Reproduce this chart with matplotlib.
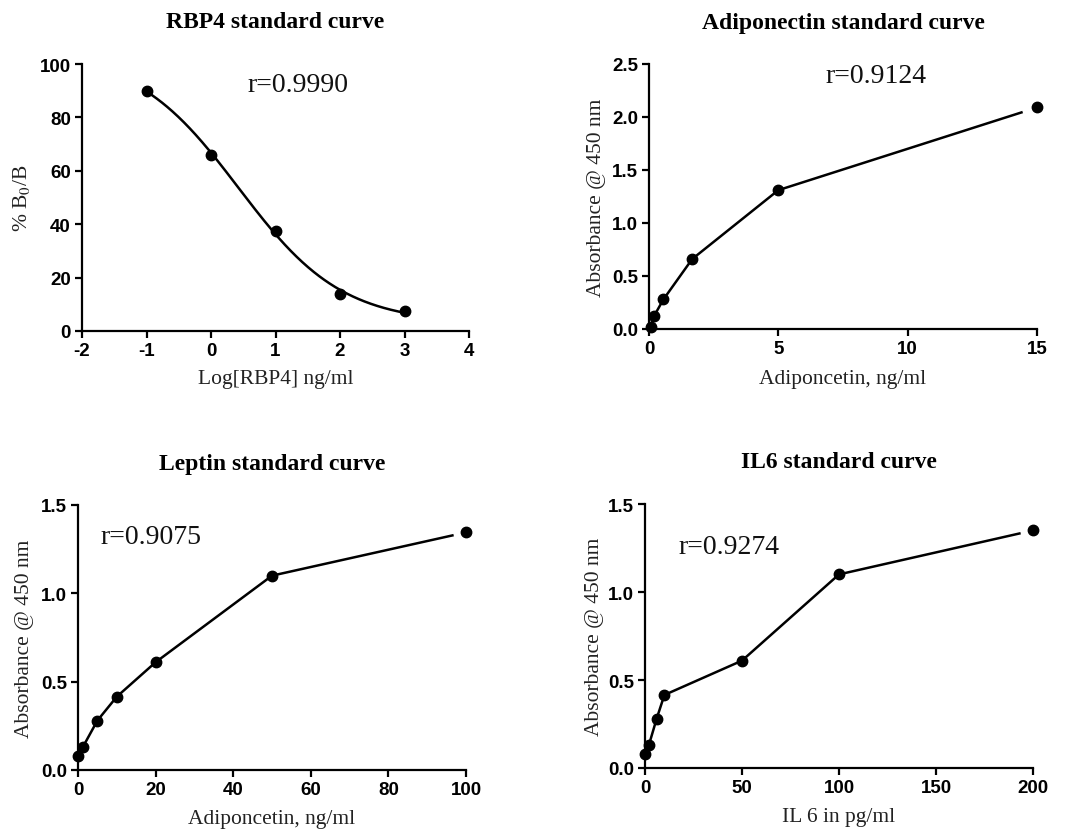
import numpy as np
import matplotlib
matplotlib.use("Agg")
import matplotlib.pyplot as plt

plt.rcParams['mathtext.fontset'] = 'stix'
plt.rcParams['axes.unicode_minus'] = False

# ---------------- data ----------------
rbp4_x = [-1, 0, 1, 2, 3]
rbp4_y = [90.0, 66.0, 37.5, 14.0, 7.5]

adipo_x = [0.06, 0.19, 0.56, 1.67, 5, 15]
adipo_y = [0.02, 0.12, 0.28, 0.66, 1.31, 2.09]

leptin_x = [0, 1.25, 5, 10, 20, 50, 100]
leptin_y = [0.08, 0.13, 0.28, 0.415, 0.61, 1.10, 1.345]

il6_x = [0, 2, 6, 10, 50, 100, 200]
il6_y = [0.08, 0.13, 0.28, 0.415, 0.61, 1.10, 1.35]

titles = ["RBP4 standard curve", "Adiponectin standard curve",
          "Leptin standard curve", "IL6 standard curve"]
r_texts = ["r=0.9990", "r=0.9124", "r=0.9075", "r=0.9274"]
xlabels = ["Log[RBP4] ng/ml", "Adiponcetin, ng/ml", "Adiponcetin, ng/ml", "IL 6 in pg/ml"]
ylabels = ["% B$_0$/B", "Absorbance @ 450 nm", "Absorbance @ 450 nm", "Absorbance @ 450 nm"]

W, H = 1068, 837


def fit_4pl(x, y):
    """Fit y = bottom + (top-bottom)/(1+10^((x-c)*h)) by grid search."""
    x = np.asarray(x, float); y = np.asarray(y, float)
    best = None
    for c in np.linspace(-1, 2.5, 141):
        for h in np.linspace(0.2, 2.5, 116):
            s = 1.0 / (1.0 + 10 ** ((x - c) * h))
            A = np.column_stack([1 - s, s])
            coef, *_ = np.linalg.lstsq(A, y, rcond=None)
            err = np.sum((A @ coef - y) ** 2)
            if best is None or err < best[0]:
                best = (err, c, h, coef)
    _, c, h, (bot, top) = best
    return lambda xx: bot + (top - bot) / (1.0 + 10 ** ((xx - c) * h))


fig = plt.figure(figsize=(W / 100, H / 100), dpi=100)

# axes boxes in pixels: left, top, right, bottom
boxes = [(82, 65, 469, 332), (649, 65, 1037, 330), (78, 506, 466, 771), (645, 505, 1033, 769)]
xlims = [(-2, 4), (0, 15), (0, 100), (0, 200)]
ylims = [(0, 100), (0, 2.5), (0, 1.5), (0, 1.5)]
xticks = [np.arange(-2, 5, 1), [0, 5, 10, 15], np.arange(0, 101, 20), np.arange(0, 201, 50)]
yticks = [np.arange(0, 101, 20), np.arange(0, 2.51, 0.5), np.arange(0, 1.51, 0.5), np.arange(0, 1.51, 0.5)]
ytickfmt = ["{:.0f}", "{:.1f}", "{:.1f}", "{:.1f}"]
rpos = [(0.57, 92.5), (6.84, 2.39), (5.7, 1.32), (17.5, 1.26)]
title_y = [23, 23, 465, 463]
xlabel_y = [380, 380, 820, 818]
ylabel_x = [22, 597, 25, 594]
end_frac = [1.0, 0.94, 0.93, 0.93]

data = [(rbp4_x, rbp4_y), (adipo_x, adipo_y), (leptin_x, leptin_y), (il6_x, il6_y)]

for i in range(4):
    l, t, r, b = boxes[i]
    ax = fig.add_axes([l / W, (H - b) / H, (r - l) / W, (b - t) / H])
    x, y = data[i]
    x = np.asarray(x, float); y = np.asarray(y, float)
    if i == 0:
        f = fit_4pl(x, y)
        xs = np.linspace(x[0], x[-1], 400)
        ax.plot(xs, f(xs), color='black', lw=1.8, clip_on=False)
    else:
        xend = x[-2] + (x[-1] - x[-2]) * end_frac[i]
        xs = np.append(x[:-1], xend)
        ax.plot(xs, np.interp(xs, x, y), color='black', lw=1.8, clip_on=False)
    ax.plot(x, y, 'o', color='black', ms=7.5, clip_on=False, zorder=5)
    ax.set_xlim(*xlims[i]); ax.set_ylim(*ylims[i])
    ax.set_xticks(xticks[i]); ax.set_yticks(yticks[i])
    ax.set_yticklabels([ytickfmt[i].format(v) for v in yticks[i]])
    for s in ['top', 'right']:
        ax.spines[s].set_visible(False)
    for s in ['left', 'bottom']:
        ax.spines[s].set_linewidth(1.6)
    ax.tick_params(direction='out', length=5, width=1.6, pad=3)
    for lab in ax.get_xticklabels() + ax.get_yticklabels():
        lab.set_fontfamily('Liberation Sans'); lab.set_fontweight('bold'); lab.set_fontsize(13.5)
    ax.text(rpos[i][0], rpos[i][1], r_texts[i], fontfamily='Liberation Serif', fontsize=20,
            ha='left', va='center', color='#111111')
    cx = (l + r) / 2
    fig.text(cx / W, 1 - title_y[i] / H, titles[i], fontfamily='Liberation Serif',
             fontweight='bold', fontsize=17, ha='center', va='center')
    fig.text(cx / W, 1 - xlabel_y[i] / H, xlabels[i], fontfamily='Liberation Serif',
             fontsize=15.5, ha='center', va='center', color='#222222')
    fig.text(ylabel_x[i] / W, 1 - ((t + b) / 2) / H, ylabels[i], fontfamily='Liberation Serif',
             fontsize=15.5, ha='center', va='center', rotation=90, color='#222222')

fig.savefig("out.png", dpi=100)
